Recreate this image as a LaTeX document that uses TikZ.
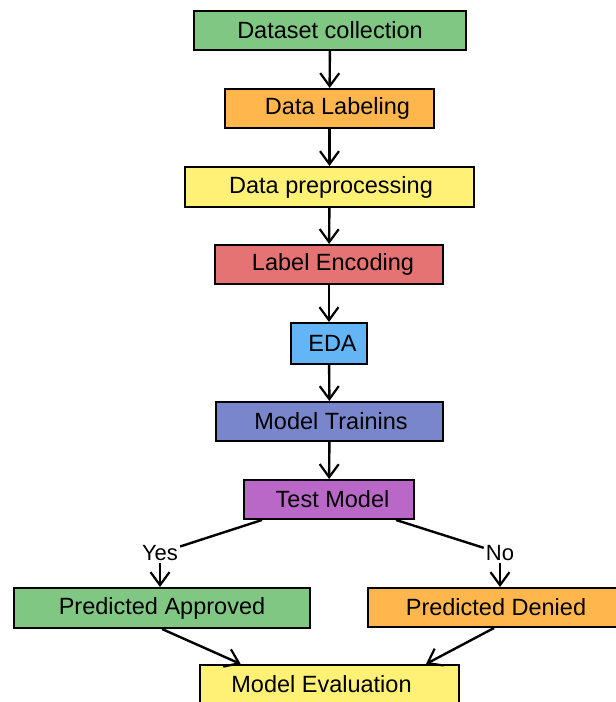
\documentclass[tikz,border=0pt]{standalone}
\usepackage{fontspec}
\setmainfont{Liberation Sans}
\usetikzlibrary{arrows.meta}
\definecolor{cgreen}{HTML}{81C784}
\definecolor{corange}{HTML}{FFB74D}
\definecolor{cyellow}{HTML}{FFF176}
\definecolor{cred}{HTML}{E57373}
\definecolor{cblue}{HTML}{64B5F6}
\definecolor{cindigo}{HTML}{7986CB}
\definecolor{cpurple}{HTML}{BA68C8}
\tikzset{
  box/.style={draw=black, line width=2pt, inner sep=0pt, minimum height=39pt,
    font=\fontsize{23.5}{28}\selectfont, text=black},
  lbl/.style={inner sep=2pt, font=\fontsize{22}{26}\selectfont},
  conn/.style={line width=2.4pt, draw=black},
  arr/.style={conn, -{Straight Barb[length=13pt,width=19pt,line width=2.2pt]}}
}
\begin{document}
\begin{tikzpicture}[x=1pt,y=-1pt]
\clip (0,0) rectangle (616,702);
\fill[white] (0,0) rectangle (616,702);
\node[box, fill=cgreen,  minimum width=272pt] (ds)  at (330,30.5)  {Dataset collection};
\node[box, fill=corange, minimum width=209pt] (dl)  at (329.5,108.5) {\hspace*{16pt}Data Labeling};
\node[box, fill=cyellow, minimum width=289pt, minimum height=40pt] (dp)  at (329.5,187) {\hspace*{3pt}Data preprocessing};
\node[box, fill=cred,    minimum width=228pt] (le)  at (329,264.5) {\hspace*{8pt}Label Encoding};
\node[box, fill=cblue,   minimum width=76pt, minimum height=41pt] (eda) at (329,343.5) {\hspace*{7pt}EDA};
\node[box, fill=cindigo, minimum width=227pt] (mt)  at (329.5,421.5) {\hspace*{3pt}Model Trainins};
\node[box, fill=cpurple, minimum width=170pt] (tm)  at (329,499.5) {\hspace*{7pt}Test Model};
\node[box, fill=cgreen,  minimum width=296pt, minimum height=40pt] (pa) at (162,608) {Predicted Approved};
\node[box, fill=corange, minimum width=252pt] (pd)  at (494,607.5) {\raisebox{-4pt}{\hspace*{4pt}Predicted Denied}};
\node[box, fill=cyellow, minimum width=259pt] (me)  at (329.5,684.5) {Model Evaluation\hspace*{16pt}};
\node[lbl] (yes) at (160,553) {Yes};
\node[lbl] (no)  at (500,553) {No};

\draw[arr] (ds) -- (dl);
\draw[arr] (dl) -- (dp);
\draw[arr] (dp) -- (le);
\draw[arr] (le) -- (eda);
\draw[arr] (eda) -- (mt);
\draw[arr] (mt) -- (tm);
\draw[conn] (tm.197.5) -- (yes);
\draw[conn] (tm.343) -- (no);
\draw[arr] (yes.south) -- (yes.south |- pa.north);
\draw[arr] (no.south) -- (no.south |- pd.north);
\draw[arr] (pa.south) -- (me.167.2);
\draw[arr] (pd.south) -- (me.12.4);
\end{tikzpicture}
\end{document}
